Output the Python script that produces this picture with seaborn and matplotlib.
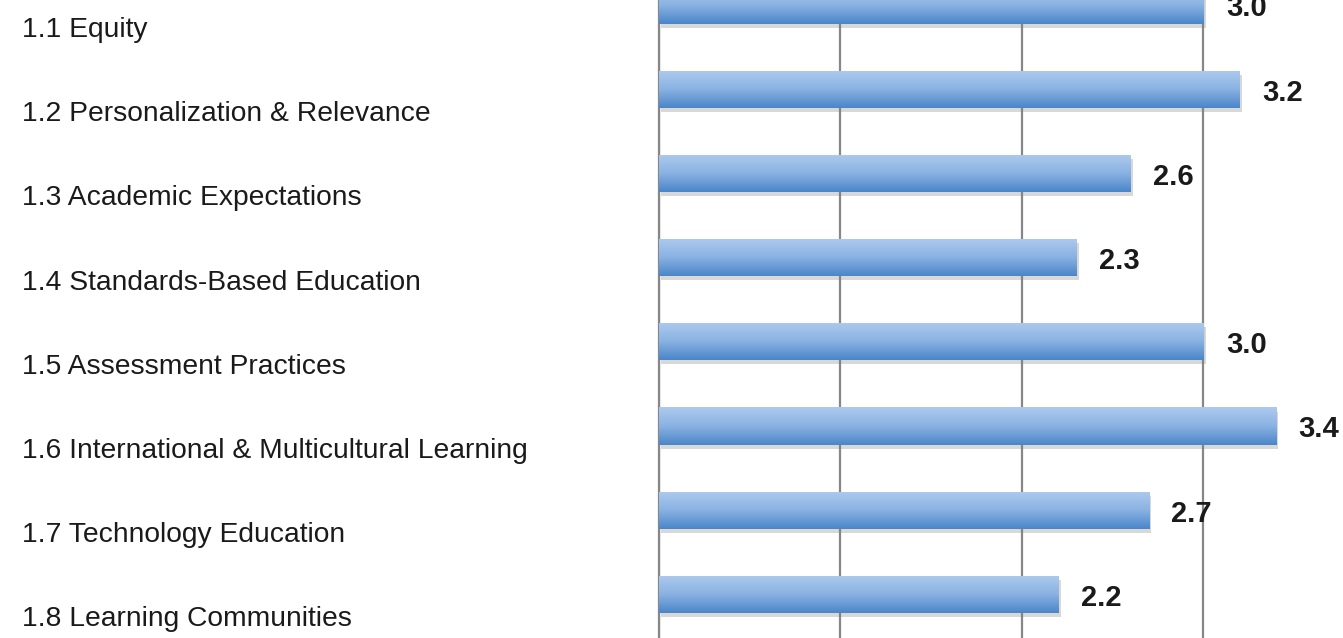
import numpy as np
import pandas as pd
import matplotlib
matplotlib.use("Agg")
import matplotlib.pyplot as plt
import matplotlib.patheffects as pe
from matplotlib.colors import LinearSegmentedColormap
import seaborn as sns

# Standards and their mean ratings
standards = [
    "1.1 Equity",
    "1.2 Personalization & Relevance",
    "1.3 Academic Expectations",
    "1.4 Standards-Based Education",
    "1.5 Assessment Practices",
    "1.6 International & Multicultural Learning",
    "1.7 Technology Education",
    "1.8 Learning Communities",
]
ratings = [3.0, 3.2, 2.6, 2.3, 3.0, 3.4, 2.7, 2.2]

df = pd.DataFrame({"standard": standards, "rating": ratings})

sns.set_theme(style="white")
plt.rcParams["font.family"] = ["Liberation Sans", "DejaVu Sans"]

W, H, DPI = 1343, 638, 100
fig = plt.figure(figsize=(W / DPI, H / DPI), dpi=DPI)

x0_px = 658.5          # pixel position of the zero line
unit_px = 181.5        # pixels per rating unit
row_px = 84.2          # pixels between rows
first_px = 5.0         # centre of the first bar from the top edge

ax = fig.add_axes([x0_px / W, 0.0, (W - x0_px) / W, 1.0])

sns.barplot(data=df, x="rating", y="standard", orient="h", width=0.44,
            color="#6d9fd8", errorbar=None, ax=ax, zorder=3)

grad_cmap = LinearSegmentedColormap.from_list(
    "barblue", ["#adcaee", "#8ab2e2", "#4b86c9"])
grad = np.linspace(0, 1, 64).reshape(-1, 1)

for patch in ax.patches:
    patch.set_edgecolor("none")
    patch.set_path_effects([
        pe.SimplePatchShadow(offset=(2, -3), shadow_rgbFace="#808080", alpha=0.3),
        pe.Normal(),
    ])
    bx, by = patch.get_x(), patch.get_y()
    bw, bh = patch.get_width(), patch.get_height()
    im = ax.imshow(grad, cmap=grad_cmap, aspect="auto", interpolation="bicubic",
                   extent=[bx, bx + bw, by + bh, by], zorder=4)
    im.set_clip_path(patch)

value_labels = ax.bar_label(ax.containers[0], fmt="%.1f", padding=16.5,
                            fontsize=21, fontweight="bold", color="#1a1a1a",
                            zorder=5)
for ann in value_labels:
    ann.xyann = (16.5, -2.5)

n = len(standards)
ax.set_xlim(0, (W - x0_px) / unit_px)
ax.set_ylim((H - first_px) / row_px, -first_px / row_px)

# Vertical gridlines at each whole rating
ax.set_xticks([0, 1, 2, 3])
ax.set_xticklabels([])
ax.xaxis.grid(True, color="#878787", linewidth=1.6)
ax.yaxis.grid(False)
ax.set_axisbelow(True)
ax.tick_params(axis="x", length=0)

# Category labels sit a little below each bar, left-aligned near the figure edge
label_offset = 22.0 / row_px
ax.set_yticks(np.arange(n) + label_offset)
ax.set_yticklabels(standards, fontsize=20.3, color="#1a1a1a")
ax.tick_params(axis="y", length=0, pad=(x0_px - 22) * 72 / DPI)
for lbl in ax.get_yticklabels():
    lbl.set_horizontalalignment("left")

ax.set_xlabel("")
ax.set_ylabel("")
for side in ["top", "right", "bottom"]:
    ax.spines[side].set_visible(False)
ax.spines["left"].set_color("#878787")
ax.spines["left"].set_linewidth(1.6)

fig.savefig("out.png", dpi=DPI, facecolor="white")
